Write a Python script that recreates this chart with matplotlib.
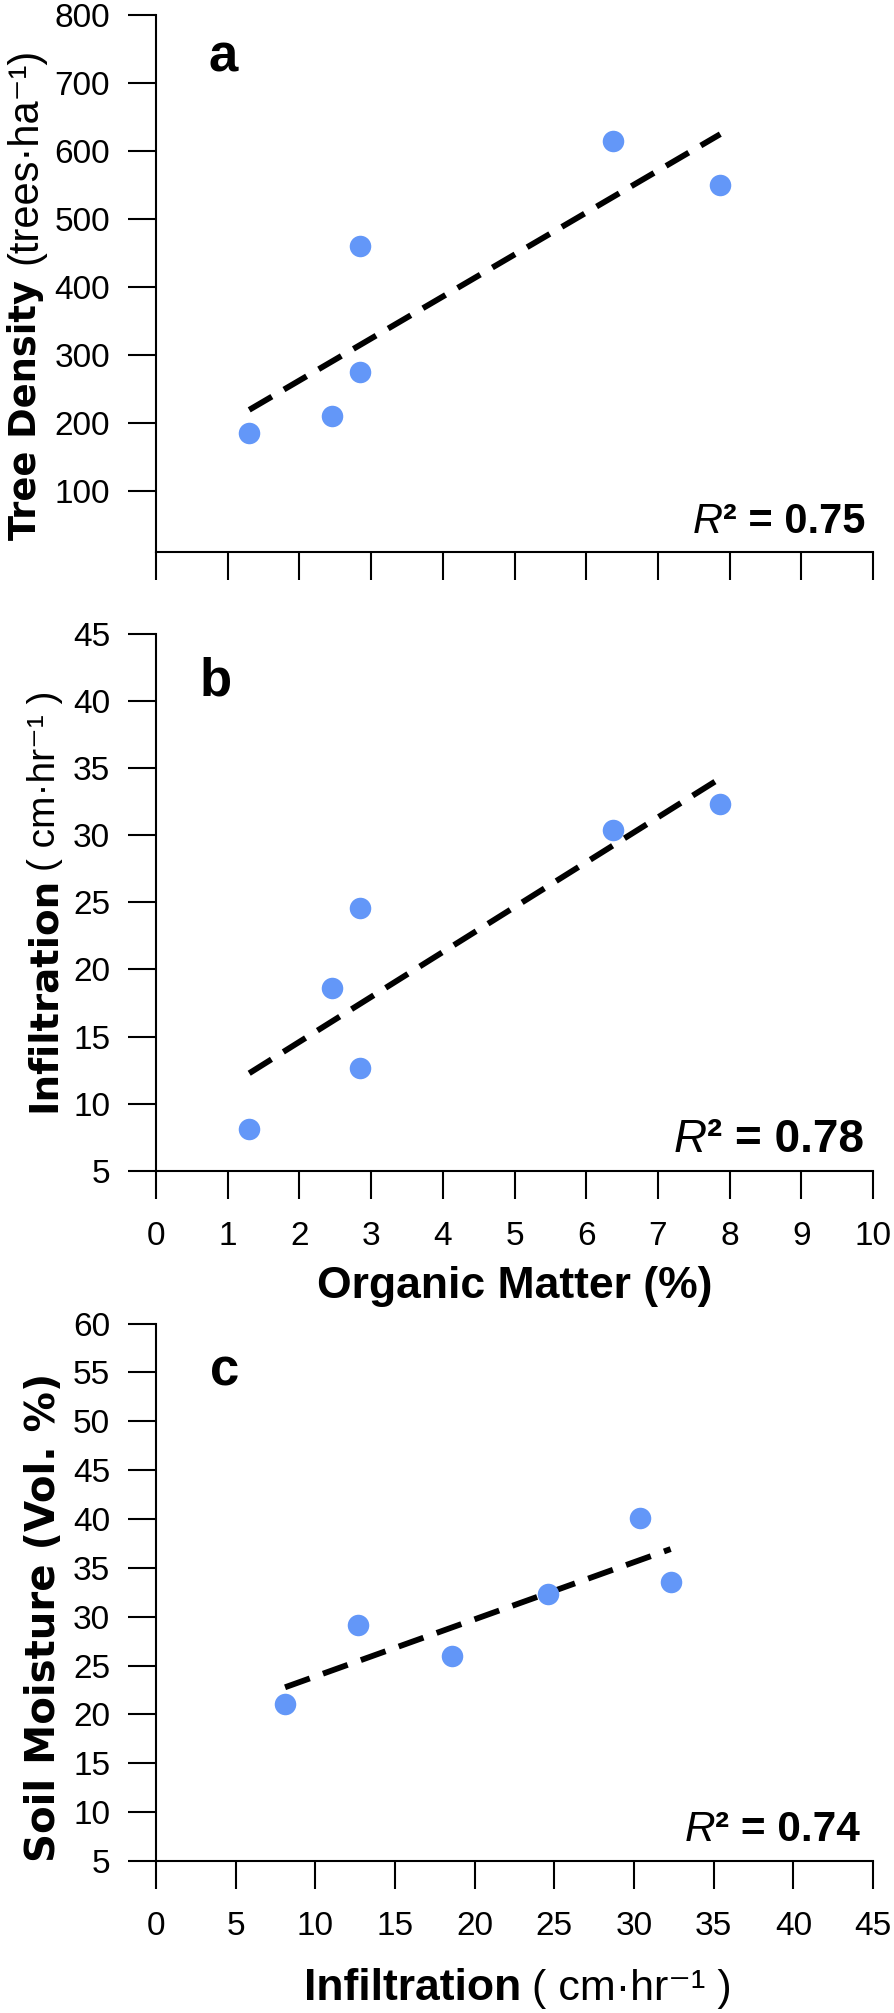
import matplotlib
matplotlib.use('Agg')
import matplotlib.pyplot as plt
from matplotlib import font_manager
import numpy as np

# values (six sites)
organic_matter = [1.30, 2.46, 2.84, 2.84, 6.37, 7.87]
tree_density = [185, 210, 275, 460, 615, 550]
infiltration = [8.1, 18.6, 12.7, 24.6, 30.4, 32.3]
soil_moisture = [21.1, 26.0, 29.2, 32.3, 40.1, 33.6]
r2_values = ['0.75', '0.78', '0.74']
panel_letters = ['a', 'b', 'c']

om_ticks = list(range(0, 11))
inf_ticks = list(range(0, 50, 5))
td_ticks = list(range(100, 900, 100))
inf_yticks = list(range(5, 50, 5))
sm_ticks = list(range(5, 65, 5))

# fonts
names = {f.name for f in font_manager.fontManager.ttflist}
narrow = 'Liberation Sans Narrow' if 'Liberation Sans Narrow' in names else 'Liberation Sans'
plt.rcParams['font.family'] = ['Liberation Sans', 'DejaVu Sans']

W, H = 894, 2013
fig = plt.figure(figsize=(W / 100, H / 100), dpi=100)


def fx(px):
    return px / W


def fy(py):
    return 1 - py / H


def make_axes(top, bottom):
    return fig.add_axes([fx(156), fy(bottom), (873 - 156) / W, (bottom - top) / H])


dot_color = '#6397F8'


def panel(ax, x, y, xlim, ylim, xticks, yticks, show_xlabels=True):
    ax.plot(x, y, 'o', color=dot_color, markersize=15.5, markeredgewidth=0, zorder=3)
    # linear trend line
    k, b = np.polyfit(x, y, 1)
    xs = np.array([min(x), max(x)])
    ax.plot(xs, k * xs + b, color='black', lw=4.2, dashes=(4.5, 2.4), zorder=2)
    ax.set_xlim(*xlim)
    ax.set_ylim(*ylim)
    ax.set_xticks(xticks)
    ax.set_yticks(yticks)
    for s in ['top', 'right']:
        ax.spines[s].set_visible(False)
    for s in ['left', 'bottom']:
        ax.spines[s].set_linewidth(1.5)
    ax.tick_params(direction='out', length=20, width=1.5, labelsize=24)
    ax.tick_params(axis='y', pad=13)
    ax.tick_params(axis='x', pad=16)
    if not show_xlabels:
        ax.set_xticklabels([])


# panel a
ax1 = make_axes(15, 552)
panel(ax1, organic_matter, tree_density, (0, 10), (10, 800), om_ticks, td_ticks, show_xlabels=False)

# panel b
ax2 = make_axes(633.5, 1171)
panel(ax2, organic_matter, infiltration, (0, 10), (5, 45), om_ticks, inf_yticks)

# panel c
ax3 = make_axes(1323.5, 1861)
panel(ax3, infiltration, soil_moisture, (0, 45), (5, 60), inf_ticks, sm_ticks)

# y labels
rot = dict(rotation=90, rotation_mode='anchor', ha='left', va='baseline')
fig.text(fx(36), fy(540), 'Tree Density', fontsize=26.5, fontweight='bold',
         family=['DejaVu Sans'], **rot)
fig.text(fx(36), fy(264), '(trees·ha⁻¹)', fontsize=30,
         family=['Liberation Sans', 'DejaVu Sans'], **rot)
fig.text(fx(55), fy(1112), 'Infiltration', fontsize=28, fontweight='bold',
         family=['DejaVu Sans'], **rot)
fig.text(fx(55), fy(871), '( cm·hr⁻¹ )', fontsize=28,
         family=['Liberation Sans', 'DejaVu Sans'], **rot)
fig.text(fx(55), fy(1862), 'Soil Moisture (Vol. %)', fontsize=29, fontweight='bold',
         family=['DejaVu Sans'], **rot)

# x labels
fig.text(fx(515), fy(1298), 'Organic Matter (%)', ha='center', va='baseline',
         fontsize=32, fontweight='bold', family=['Liberation Sans'])
fig.text(fx(521), fy(2000), 'Infiltration', ha='right', va='baseline',
         fontsize=32, fontweight='bold', family=['Liberation Sans'])
fig.text(fx(532), fy(2000), '( cm·hr⁻¹ )', ha='left', va='baseline',
         fontsize=31, family=['Liberation Sans', 'DejaVu Sans'])

# R squared annotations
r2_pos = [(865, 533, 30), (864, 1152, 33), (860, 1841, 30.5)]
for (px, py, fs), r2 in zip(r2_pos, r2_values):
    t = fig.text(fx(px), fy(py), '² = ' + r2, ha='right', va='baseline',
                 fontsize=fs, fontweight='bold', family=['Liberation Sans'])
    plt.annotate('R', xy=(0, 0), xycoords=t, ha='right', va='bottom',
                 fontsize=fs, fontstyle='italic', family=['Liberation Sans'])

# panel letters
letter_pos = [(223, 72), (216, 696), (225, 1385)]
for (px, py), letter in zip(letter_pos, panel_letters):
    fig.text(fx(px), fy(py), letter, ha='center', va='baseline',
             fontsize=38, fontweight='bold', family=[narrow])

fig.savefig('out.png', dpi=100)
